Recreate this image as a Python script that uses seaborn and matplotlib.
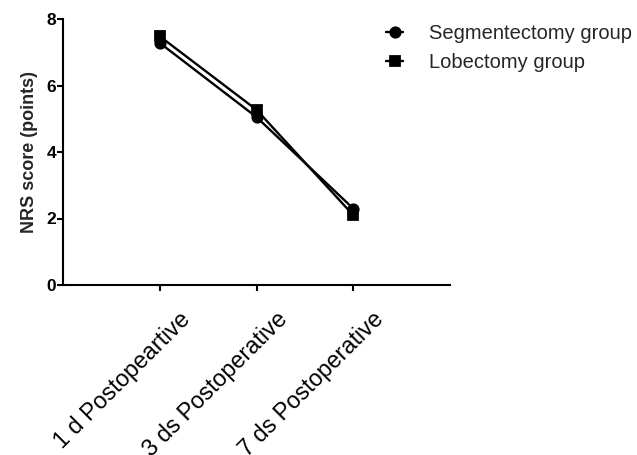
import matplotlib
matplotlib.use("Agg")
import matplotlib.pyplot as plt
import matplotlib.transforms as mtransforms
import seaborn as sns
import pandas as pd

# values
timepoints = ["1 d Postopeartive", "3 ds Postoperative", "7 ds Postoperative"]
segmentectomy = [7.28, 5.05, 2.30]
lobectomy = [7.48, 5.27, 2.10]
groups = ["Segmentectomy group", "Lobectomy group"]

df = pd.DataFrame({
    "time": timepoints * 2,
    "score": segmentectomy + lobectomy,
    "group": [groups[0]] * 3 + [groups[1]] * 3,
})

sns.set_style("ticks")
plt.rcParams["font.family"] = ["Liberation Sans", "DejaVu Sans"]

fig = plt.figure(figsize=(6.37, 4.55), dpi=100)
ax = fig.add_axes([63 / 637, 1 - 285 / 455, (450 - 63) / 637, (285 - 19) / 455])

sns.pointplot(data=df, x="time", y="score", hue="group", hue_order=groups,
              palette=["black", "black"], markers=["o", "s"], linestyles=["-", "-"],
              errorbar=None, dodge=False, markersize=7.5, linewidth=1.7, ax=ax)

ax.set_xlim(-1, 3)
ax.set_ylim(0, 8)
ax.set_yticks([0, 2, 4, 6, 8])
ax.set_xlabel("")
ax.set_ylabel("NRS score (points)", fontsize=13, fontweight="bold", labelpad=6)

for side in ["top", "right"]:
    ax.spines[side].set_visible(False)
for side in ["left", "bottom"]:
    ax.spines[side].set_linewidth(1.5)
    ax.spines[side].set_color("black")

ax.tick_params(axis="both", direction="out", length=4, width=1.5, colors="black")
ax.tick_params(axis="y", labelsize=12.5, pad=1)
ax.tick_params(axis="x", labelsize=16.8, pad=0)
for lbl in ax.get_yticklabels():
    lbl.set_fontweight("bold")

offset = mtransforms.ScaledTranslation(0.27, -0.25, fig.dpi_scale_trans)
for lbl in ax.get_xticklabels():
    lbl.set_rotation(45)
    lbl.set_rotation_mode("anchor")
    lbl.set_ha("right")
    lbl.set_va("center")
    lbl.set_transform(lbl.get_transform() + offset)

handles, labels = ax.get_legend_handles_labels()
ax.legend(handles, labels, loc="upper left", bbox_to_anchor=(386 / 637, 1 - 24 / 455),
          bbox_transform=fig.transFigure, frameon=False, fontsize=14.5,
          handlelength=0.85, handletextpad=1.3, labelspacing=0.5,
          borderpad=0, borderaxespad=0)

fig.savefig("out.png", dpi=100)
